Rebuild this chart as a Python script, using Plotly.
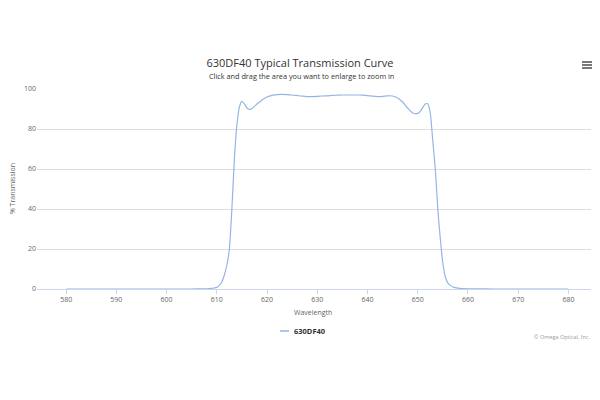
import plotly.graph_objects as go

wavelength = [580, 585, 590, 595, 600, 605, 607, 608, 609, 609.5, 610, 610.5, 611, 611.5,
              612, 612.5, 613, 613.5, 614, 614.5, 615, 615.5, 616, 616.5, 617, 618, 619,
              620, 621, 622, 623, 624, 625, 626, 627, 628, 629, 630, 631, 632, 633, 634,
              635, 636, 637, 638, 639, 640, 641, 642, 643, 644, 645, 646, 647, 648, 649,
              650, 650.5, 651, 651.5, 652, 652.5, 653, 653.5, 654, 654.5, 655, 655.5, 656,
              656.5, 657, 658, 659, 660, 662, 665, 670, 675, 680]
transmission = [0, 0, 0, 0, 0, 0, 0.05, 0.1, 0.3, 0.5, 0.8, 1.8, 3.5, 7,
                12, 20, 40, 65, 82, 91, 93.8, 92.5, 90.5, 89.8, 90.2, 92.5, 94.5,
                96, 96.8, 97.2, 97.3, 97.2, 97, 96.7, 96.4, 96.2, 96.2, 96.3, 96.5, 96.6, 96.8, 96.9,
                97, 97, 97, 97, 96.9, 96.7, 96.4, 96.2, 96.3, 96.6, 96.5, 95.5, 93.5, 90.5, 88,
                87.8, 88.8, 90.8, 92.5, 92.6, 88, 74, 60, 40, 25, 13, 6, 3,
                1.8, 1.0, 0.4, 0.2, 0.1, 0.05, 0, 0, 0, 0]

x_ticks = [580, 590, 600, 610, 620, 630, 640, 650, 660, 670, 680]
y_ticks = [0, 20, 40, 60, 80, 100]
series_name = "630DF40"

FONT = "Open Sans"
LINE_COLOR = "#94b6e2"

# page offset (body margin) of 8px: figure px = reference px - 8
OFF = 8
PL, PR, PT, PB = 37 - OFF, 591 - OFF, 89 - OFF, 289 - OFF
PW, PH = PR - PL, PB - PT


def px(x):
    return (x - OFF - PL) / PW


def py(y):
    return (PB - (y - OFF)) / PH


fig = go.Figure()
fig.add_trace(go.Scatter(
    x=wavelength, y=transmission, mode="lines", name=series_name,
    line=dict(color=LINE_COLOR, width=1.2, shape="spline", smoothing=0.6),
    showlegend=False,
))

shapes = [
    dict(type="line", xref="paper", yref="paper",
         x0=px(582), x1=px(593), y0=py(yy), y1=py(yy),
         line=dict(color="#555555", width=1.6))
    for yy in (62, 65, 68)
]
shapes.append(dict(type="line", xref="paper", yref="paper",
                   x0=px(280), x1=px(289), y0=py(331), y1=py(331),
                   line=dict(color=LINE_COLOR, width=1.5)))

fig.update_layout(
    width=600, height=400,
    margin=dict(l=PL, r=600 - PR, t=PT, b=400 - PB),
    paper_bgcolor="white", plot_bgcolor="white",
    font=dict(family=FONT, color="#666666", size=7),
    title=dict(text="630DF40 Typical Transmission Curve", x=(300 - OFF) / 600, xanchor="center",
               y=1 - (63 - OFF) / 400, yanchor="middle",
               font=dict(family=FONT, size=11, color="#333333")),
    showlegend=False,
    xaxis=dict(range=[574.2, 684.5], tickvals=x_ticks, showgrid=False, zeroline=False,
               showline=True, linecolor="#ccd6eb", linewidth=1,
               ticks="outside", ticklen=4, tickcolor="#ccd6eb",
               tickfont=dict(size=7, color="#666666")),
    yaxis=dict(range=[0, 100], tickvals=y_ticks, showgrid=True, gridcolor="#dedede",
               gridwidth=1, zeroline=False, showline=False, ticks="",
               tickfont=dict(size=7, color="#666666")),
    annotations=[
        dict(text="Click and drag the area you want to enlarge to zoom in",
             xref="paper", yref="paper", x=px(301), y=py(76),
             xanchor="center", yanchor="middle", showarrow=False,
             font=dict(family=FONT, size=7.3, color="#333333")),
        dict(text="Wavelength", xref="paper", yref="paper", x=px(313), y=py(312),
             xanchor="center", yanchor="middle", showarrow=False,
             font=dict(family=FONT, size=7, color="#666666")),
        dict(text="% Transmission", xref="paper", yref="paper", x=px(12),
             y=py(189), xanchor="center", yanchor="middle", textangle=-90, showarrow=False,
             font=dict(family=FONT, size=7, color="#666666")),
        dict(text="<b>" + series_name + "</b>", xref="paper", yref="paper",
             x=px(292), y=py(331), xanchor="left", yanchor="middle", showarrow=False,
             font=dict(family=FONT, size=7.5, color="#333333")),
        dict(text="© Omega Optical, Inc.", xref="paper", yref="paper",
             x=px(592), y=py(337),
             xanchor="right", yanchor="middle", showarrow=False,
             font=dict(family=FONT, size=5.5, color="#999999")),
    ],
    shapes=shapes,
)

fig.write_html("out.html")
